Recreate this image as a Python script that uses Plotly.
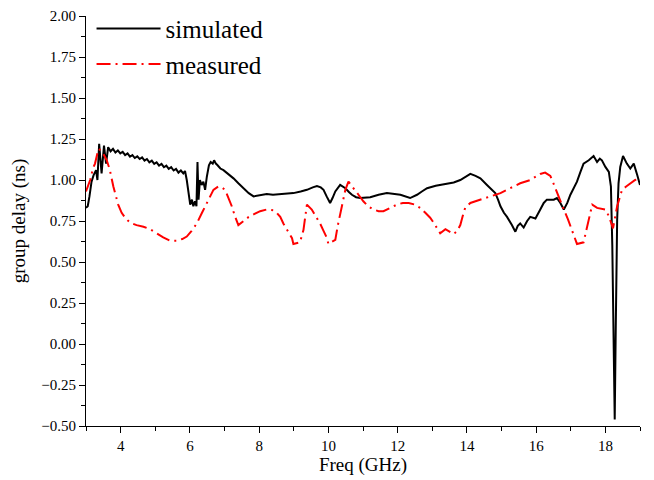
import plotly.graph_objects as go

sim_x = [3.00, 3.05, 3.10, 3.16, 3.22, 3.29, 3.33, 3.38, 3.45, 3.52, 3.58, 3.64,
         3.71, 3.78, 3.85, 3.92, 3.99, 4.06, 4.13, 4.20, 4.27, 4.34, 4.41, 4.48,
         4.55, 4.62, 4.69, 4.76, 4.83, 4.90, 4.97, 5.04, 5.11, 5.18, 5.25, 5.32,
         5.39, 5.46, 5.53, 5.60, 5.67, 5.74, 5.81, 5.86, 5.91, 5.96, 6.01, 6.06,
         6.10, 6.15, 6.19, 6.22, 6.25, 6.29, 6.34, 6.39, 6.44, 6.49, 6.55, 6.60,
         6.66, 6.70, 6.75, 6.80, 6.88, 6.97, 7.10, 7.26, 7.40, 7.55, 7.70, 7.84,
         8.00, 8.22, 8.40, 8.61, 8.80, 8.99, 9.20, 9.38, 9.55, 9.67, 9.78, 9.86,
         9.95, 10.05, 10.12, 10.20, 10.34, 10.49, 10.60, 10.68, 10.80, 10.92, 11.21, 11.45,
         11.69, 11.90, 12.08, 12.36, 12.56, 12.70, 12.85, 13.10, 13.33, 13.62, 13.81, 13.95,
         14.10, 14.25, 14.39, 14.58, 14.70, 14.82, 14.90, 14.97, 15.07, 15.16, 15.30, 15.40,
         15.47, 15.54, 15.64, 15.74, 15.83, 15.98, 16.12, 16.22, 16.31, 16.51, 16.60, 16.70,
         16.80, 16.90, 16.99, 17.18, 17.28, 17.37, 17.52, 17.66, 17.76, 17.84, 17.90, 18.00,
         18.10, 18.16, 18.20, 18.24, 18.27, 18.30, 18.34, 18.38, 18.43, 18.51, 18.62, 18.72,
         18.82, 18.92, 19.00]
sim_y = [0.83, 0.84, 0.90, 0.99, 1.03, 1.06, 1.00, 1.22, 1.04, 1.21, 1.10, 1.20,
         1.175, 1.19, 1.168, 1.18, 1.162, 1.172, 1.152, 1.162, 1.142, 1.152, 1.134, 1.144,
         1.128, 1.138, 1.118, 1.128, 1.108, 1.118, 1.098, 1.108, 1.088, 1.098, 1.078, 1.088,
         1.068, 1.078, 1.058, 1.068, 1.045, 1.058, 1.04, 1.055, 1.00, 0.92, 0.85, 0.88,
         0.84, 0.87, 0.84, 1.11, 0.88, 1.00, 0.97, 0.99, 0.94, 1.02, 1.09, 1.11,
         1.10, 1.12, 1.10, 1.09, 1.07, 1.06, 1.04, 1.01, 0.98, 0.95, 0.92, 0.90,
         0.905, 0.915, 0.91, 0.915, 0.915, 0.92, 0.93, 0.94, 0.955, 0.963, 0.955, 0.94,
         0.90, 0.86, 0.89, 0.93, 0.97, 0.95, 0.925, 0.91, 0.895, 0.89, 0.895, 0.91,
         0.92, 0.915, 0.91, 0.89, 0.91, 0.93, 0.95, 0.965, 0.975, 0.985, 1.00, 1.02,
         1.037, 1.025, 1.01, 0.97, 0.945, 0.92, 0.88, 0.84, 0.80, 0.775, 0.725, 0.685,
         0.72, 0.735, 0.71, 0.75, 0.775, 0.765, 0.82, 0.86, 0.88, 0.88, 0.89, 0.86,
         0.82, 0.86, 0.91, 0.99, 1.05, 1.10, 1.12, 1.146, 1.11, 1.13, 1.12, 1.08,
         1.05, 0.96, 0.60, 0.00, -0.46, 0.10, 0.756, 0.98, 1.08, 1.146, 1.10, 1.07,
         1.10, 1.03, 0.97]

meas_x = [3.00, 3.12, 3.20, 3.26, 3.36, 3.43, 3.50, 3.60, 3.69, 3.79, 3.93, 4.03,
          4.13, 4.27, 4.46, 4.66, 4.85, 5.04, 5.23, 5.43, 5.62, 5.78, 5.91, 6.05,
          6.20, 6.35, 6.49, 6.60, 6.68, 6.82, 6.92, 7.02, 7.12, 7.21, 7.30, 7.40,
          7.55, 7.70, 7.84, 8.03, 8.22, 8.41, 8.51, 8.61, 8.70, 8.82, 8.95, 8.99,
          9.18, 9.28, 9.38, 9.52, 9.64, 9.76, 9.86, 9.96, 10.00, 10.20, 10.27, 10.34,
          10.42, 10.49, 10.58, 10.65, 10.73, 10.87, 11.01, 11.15, 11.30, 11.45, 11.59, 11.78,
          11.98, 12.15, 12.32, 12.50, 12.65, 12.80, 12.94, 13.04, 13.14, 13.23, 13.38, 13.50,
          13.62, 13.72, 13.81, 13.88, 13.95, 14.10, 14.39, 14.68, 14.97, 15.25, 15.54, 15.83,
          16.12, 16.26, 16.41, 16.48, 16.55, 16.68, 16.80, 16.92, 17.04, 17.18, 17.37, 17.47,
          17.55, 17.62, 17.76, 18.00, 18.10, 18.22, 18.34, 18.48, 18.60, 18.72, 18.86, 19.00]
meas_y = [0.93, 1.00, 1.07, 1.10, 1.19, 1.18, 1.16, 1.12, 1.06, 0.96, 0.85, 0.80,
          0.77, 0.74, 0.725, 0.715, 0.70, 0.675, 0.65, 0.63, 0.63, 0.64, 0.655, 0.69,
          0.735, 0.80, 0.86, 0.91, 0.94, 0.96, 0.955, 0.94, 0.89, 0.84, 0.78, 0.725,
          0.75, 0.775, 0.79, 0.81, 0.82, 0.815, 0.80, 0.775, 0.735, 0.69, 0.645, 0.61,
          0.62, 0.695, 0.85, 0.82, 0.78, 0.735, 0.69, 0.645, 0.61, 0.635, 0.72, 0.80,
          0.87, 0.94, 0.99, 0.97, 0.95, 0.91, 0.87, 0.84, 0.82, 0.81, 0.81, 0.83,
          0.85, 0.86, 0.86, 0.85, 0.83, 0.80, 0.77, 0.74, 0.705, 0.675, 0.70, 0.685,
          0.67, 0.69, 0.725, 0.78, 0.83, 0.86, 0.88, 0.90, 0.92, 0.95, 0.98, 1.00,
          1.037, 1.045, 1.025, 0.99, 0.95, 0.88, 0.82, 0.76, 0.695, 0.61, 0.62, 0.715,
          0.78, 0.85, 0.83, 0.82, 0.78, 0.705, 0.84, 0.94, 0.96, 0.98, 1.00, 1.01]

y_ticks = [-0.5, -0.25, 0.0, 0.25, 0.5, 0.75, 1.0, 1.25, 1.5, 1.75, 2.0]
x_ticks = [4, 6, 8, 10, 12, 14, 16, 18]

FONT = "Liberation Serif, Times New Roman, serif"

fig = go.Figure()
fig.add_trace(go.Scatter(x=sim_x, y=sim_y, mode="lines", name="simulated",
                         line=dict(color="black", width=2)))
fig.add_trace(go.Scatter(x=meas_x, y=meas_y, mode="lines", name="measured",
                         line=dict(color="red", width=2, dash="14px,5px,2px,5px")))

# page body has an 8px default margin, so the figure is sized to fill the rest
fig.update_layout(
    width=646, height=472,
    margin=dict(l=78, r=14, t=8, b=54, autoexpand=False),
    paper_bgcolor="white", plot_bgcolor="white",
    font=dict(family=FONT, color="black"),
    showlegend=True,
    legend=dict(x=0.01, y=1.025, xanchor="left", yanchor="top",
                bgcolor="rgba(0,0,0,0)", font=dict(size=25, family=FONT),
                itemwidth=64, tracegroupgap=0),
    xaxis=dict(range=[3, 19], tickvals=x_ticks, ticks="outside", ticklen=6,
               tickwidth=1, tickcolor="black", showline=True, linecolor="black",
               linewidth=1, showgrid=False, zeroline=False, automargin=False,
               tickfont=dict(size=15, family=FONT),
               minor=dict(dtick=1, tick0=3, ticks="outside", ticklen=4,
                          tickcolor="black", showgrid=False),
               title=dict(text="Freq (GHz)", font=dict(size=19, family=FONT),
                          standoff=2)),
    yaxis=dict(range=[-0.5, 2.0], tickvals=y_ticks, tickformat=".2f",
               ticks="outside", ticklen=6, tickwidth=1, tickcolor="black",
               showline=True, linecolor="black", linewidth=1, showgrid=False,
               zeroline=False, automargin=False, tickfont=dict(size=15, family=FONT),
               minor=dict(dtick=0.125, tick0=0, ticks="outside", ticklen=4,
                          tickcolor="black", showgrid=False),
               title=dict(text="group delay (ns)", font=dict(size=19, family=FONT),
                          standoff=13)),
)

fig.write_html("out.html")
